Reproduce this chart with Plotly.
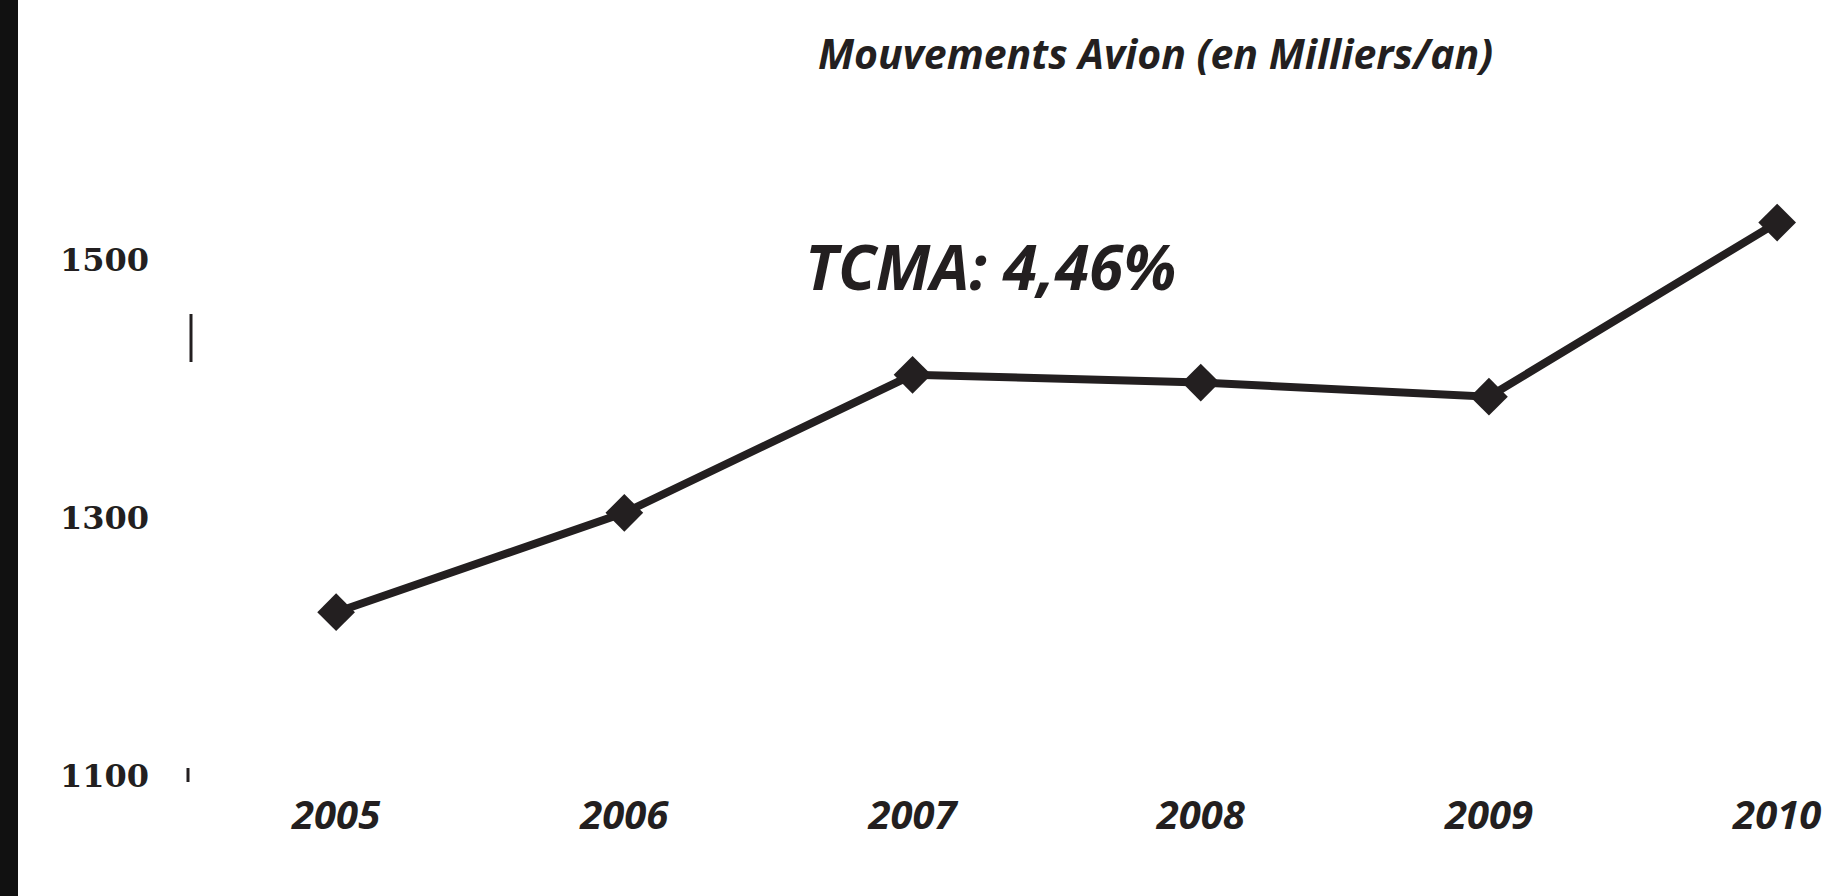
import plotly.graph_objects as go

years = [2005, 2006, 2007, 2008, 2009, 2010]
mouvements = [1227, 1304, 1411, 1405, 1394, 1529]
y_ticks = [1100, 1300, 1500]
title_text = "Mouvements Avion (en Milliers/an)"
tcma_text = "TCMA: 4,46%"

ink = "#231f20"

W, H = 1838, 896
ml, mr, mt, mb = 190, 30, 100, 120
pw, ph = W - ml - mr, H - mt - mb

def px2paperx(px):
    return (px - ml) / pw

def px2papery(py):
    return (H - mb - py) / ph

fig = go.Figure()
fig.add_trace(go.Scatter(
    x=years, y=mouvements, mode="lines+markers",
    line=dict(color=ink, width=8),
    marker=dict(symbol="diamond", size=29, color=ink),
    showlegend=False, hoverinfo="x+y",
))

fig.update_layout(
    width=W, height=H,
    margin=dict(l=ml, r=mr, t=mt, b=mb),
    plot_bgcolor="white", paper_bgcolor="white",
    xaxis=dict(range=[2004.493, 2010.107], tickvals=years,
               ticktext=[str(y) for y in years],
               showgrid=False, zeroline=False, showline=False, ticks="",
               ticklabelstandoff=12,
               tickfont=dict(family="Open Sans", size=40, color=ink,
                             weight="bold", style="italic")),
    yaxis=dict(range=[1100, 1624], tickvals=y_ticks,
               showgrid=False, zeroline=False, showline=False, ticks="",
               ticklabelstandoff=40,
               tickfont=dict(family="DejaVu Serif", size=32, color=ink, weight="bold")),
    annotations=[
        dict(text=title_text, xref="paper", yref="paper",
             x=px2paperx(1155), y=px2papery(53), xanchor="center", yanchor="middle",
             showarrow=False,
             font=dict(family="Open Sans", size=41, color=ink, weight="bold", style="italic")),
        dict(text=tcma_text, xref="paper", yref="paper",
             x=px2paperx(990), y=px2papery(266), xanchor="center", yanchor="middle",
             showarrow=False,
             font=dict(family="Open Sans", size=62, color=ink, weight="bold", style="italic")),
    ],
    shapes=[
        dict(type="rect", xref="paper", yref="paper",
             x0=px2paperx(0), x1=px2paperx(18), y0=px2papery(896), y1=px2papery(0),
             fillcolor="#111111", line=dict(width=0), layer="above"),
        dict(type="line", xref="paper", yref="paper",
             x0=px2paperx(191), x1=px2paperx(191), y0=px2papery(314), y1=px2papery(362),
             line=dict(color=ink, width=3)),
        dict(type="line", xref="paper", yref="paper",
             x0=px2paperx(188), x1=px2paperx(188), y0=px2papery(768), y1=px2papery(782),
             line=dict(color=ink, width=3)),
    ],
)

fig.write_html(
    "out.html",
    config={"displayModeBar": False},
    post_script="document.body.style.margin='0';"
                "document.documentElement.style.overflow='hidden';",
)
